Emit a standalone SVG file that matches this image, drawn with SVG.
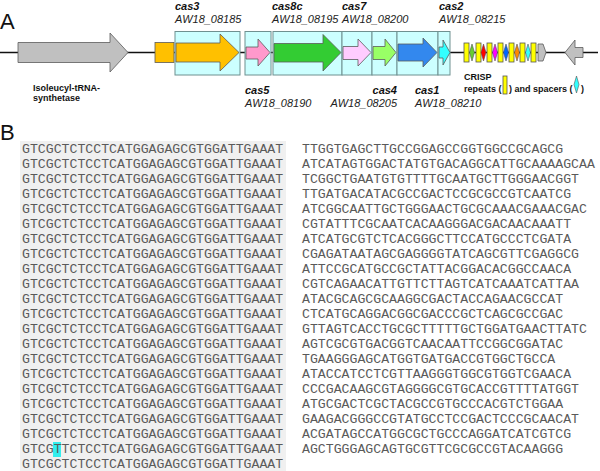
<svg xmlns="http://www.w3.org/2000/svg" width="600" height="471" viewBox="0 0 600 471">
<style>
.panel{font-family:"Liberation Sans",Arial,sans-serif;font-size:22px;fill:#111}
.gn{font-family:"Liberation Sans",Arial,sans-serif;font-size:11px;font-weight:bold;font-style:italic;fill:#111}
.id{font-family:"Liberation Sans",Arial,sans-serif;font-size:11px;font-style:italic;fill:#222}
.sm{font-family:"Liberation Sans",Arial,sans-serif;font-size:9px;font-weight:bold;fill:#111}
.box{fill:#ccffff;stroke:#6f9090;stroke-width:1}
.ar{stroke:#5a5a5a;stroke-width:0.8}
.bar{fill:#ffff00;stroke:#555;stroke-width:0.8}
.dm{stroke:#555;stroke-width:0.6}
.seq{font-family:"Liberation Mono","Courier New",monospace;font-size:13.2px;fill:#5a5a5a}
.bg{fill:#f0f0f0}
</style>
<text class="panel" x="0" y="29">A</text>
<text class="panel" x="0" y="140">B</text>
<g id="connectors">
<line x1="0" y1="52.5" x2="598" y2="52.5" stroke="#111" stroke-width="1.5"/>
</g>
<g id="ile">
<polygon class="ar" fill="#c0c0c0" points="18,42.5 110,42.5 110,33 128,52.5 110,72 110,62.5 18,62.5"/>
<text class="sm" x="33" y="91">Isoleucyl-tRNA-</text>
<text class="sm" x="33" y="101">synthetase</text>
</g>
<g id="orf">
<rect class="ar" fill="#ffc000" x="155" y="42.5" width="19" height="20"/>
</g>
<g id="cas3">
<rect class="box" x="175" y="31.5" width="65" height="43.5"/>
<polygon class="ar" fill="#ffc000" points="176,43 220,43 220,34 239,52.5 220,71 220,62 176,62"/>
<text class="gn" x="175" y="10">cas3</text>
<text class="id" x="175" y="23">AW18_08185</text>
</g>
<g id="cas5">
<rect class="box" x="245" y="31.5" width="26" height="43.5"/>
<polygon class="ar" fill="#ff99cc" points="246,47 258,47 258,39 270,52.5 258,66 258,59 246,59"/>
<text class="gn" x="245" y="94">cas5</text>
<text class="id" x="245" y="107">AW18_08190</text>
</g>
<g id="cas8c">
<rect class="box" x="273" y="31.5" width="69" height="43.5"/>
<polygon class="ar" fill="#33cc33" points="274,43.5 323,43.5 323,34.5 341,52.5 323,71 323,62 274,62"/>
<text class="gn" x="272" y="10">cas8c</text>
<text class="id" x="272" y="23">AW18_08195</text>
</g>
<g id="cas7">
<rect class="box" x="342" y="31.5" width="30" height="43.5"/>
<polygon class="ar" fill="#ffccff" points="343,46.5 358,46.5 358,39 371,52.5 358,66 358,59.5 343,59.5"/>
<text class="gn" x="342" y="10">cas7</text>
<text class="id" x="342" y="23">AW18_08200</text>
</g>
<g id="cas4">
<rect class="box" x="372" y="31.5" width="25" height="43.5"/>
<polygon class="ar" fill="#99ff66" points="373,46.5 385,46.5 385,39 396,52.5 385,66 385,59.5 373,59.5"/>
<text class="gn" x="397" y="94" text-anchor="end">cas4</text>
<text class="id" x="397" y="107" text-anchor="end">AW18_08205</text>
</g>
<g id="cas1">
<rect class="box" x="397" y="31.5" width="41" height="43.5"/>
<polygon class="ar" fill="#3388ee" points="398,44 423,44 423,38 437,52.5 423,67 423,61 398,61"/>
<text class="gn" x="415" y="94">cas1</text>
<text class="id" x="415" y="107">AW18_08210</text>
</g>
<g id="cas2">
<rect class="box" x="438" y="31.5" width="12" height="43.5"/>
<polygon class="ar" fill="#33ffff" points="439,47 443,47 443,40 450,52.5 443,65 443,58 439,58"/>
<text class="gn" x="439" y="10">cas2</text>
<text class="id" x="439" y="23">AW18_08215</text>
</g>
<g id="crispr">
<rect class="bar" x="464" y="43" width="5" height="19"/>
<polygon class="dm" fill="#66cc33" points="472,44 474.5,52.5 472,61 469.5,52.5"/>
<rect class="bar" x="476" y="43" width="5" height="19"/>
<polygon class="dm" fill="#ff0000" points="483.5,44 486,52.5 483.5,61 481,52.5"/>
<rect class="bar" x="487" y="43" width="5" height="19"/>
<polygon class="dm" fill="#ff00ff" points="495,44 497.5,52.5 495,61 492.5,52.5"/>
<rect class="bar" x="498" y="43" width="5" height="19"/>
<polygon class="dm" fill="#0066ff" points="506,44 508.5,52.5 506,61 503.5,52.5"/>
<rect class="bar" x="509" y="43" width="5" height="19"/>
<polygon class="dm" fill="#ff8800" points="517,44 519.5,52.5 517,61 514.5,52.5"/>
<rect class="bar" x="520" y="43" width="5" height="19"/>
<polygon class="dm" fill="#33ffff" points="528,44 530.5,52.5 528,61 525.5,52.5"/>
<rect class="bar" x="531" y="43" width="5" height="19"/>
<text class="sm" x="464" y="80">CRISP</text>
<text class="sm" x="464" y="92">repeats (</text>
<rect class="bar" x="503" y="76" width="4" height="18"/>
<text class="sm" x="509" y="92">) and spacers (</text>
<polygon class="dm" fill="#33ffff" points="576.5,76 579,84.5 576.5,93 574,84.5"/>
<text class="sm" x="581" y="92">)</text>
</g>
<g id="g_right1">
<polygon class="ar" fill="#c0c0c0" points="538,44 543,44 546,52.5 543,61 538,61"/>
</g>
<g id="g_right2">
<polygon class="ar" fill="#c0c0c0" points="565,52.5 575,40 575,47.5 583,47.5 583,57.5 575,57.5 575,65"/>
</g>
<g id="repeats">
<rect class="bg" x="20" y="141" width="266" height="330"/>
<rect x="53" y="442" width="8" height="15" fill="#33eeee"/>
<text class="seq" x="22">
<tspan x="22" y="153">GTCGCTCTCCTCATGGAGAGCGTGGATTGAAAT</tspan>
<tspan x="22" y="168">GTCGCTCTCCTCATGGAGAGCGTGGATTGAAAT</tspan>
<tspan x="22" y="183">GTCGCTCTCCTCATGGAGAGCGTGGATTGAAAT</tspan>
<tspan x="22" y="198">GTCGCTCTCCTCATGGAGAGCGTGGATTGAAAT</tspan>
<tspan x="22" y="213">GTCGCTCTCCTCATGGAGAGCGTGGATTGAAAT</tspan>
<tspan x="22" y="228">GTCGCTCTCCTCATGGAGAGCGTGGATTGAAAT</tspan>
<tspan x="22" y="243">GTCGCTCTCCTCATGGAGAGCGTGGATTGAAAT</tspan>
<tspan x="22" y="258">GTCGCTCTCCTCATGGAGAGCGTGGATTGAAAT</tspan>
<tspan x="22" y="273">GTCGCTCTCCTCATGGAGAGCGTGGATTGAAAT</tspan>
<tspan x="22" y="288">GTCGCTCTCCTCATGGAGAGCGTGGATTGAAAT</tspan>
<tspan x="22" y="303">GTCGCTCTCCTCATGGAGAGCGTGGATTGAAAT</tspan>
<tspan x="22" y="318">GTCGCTCTCCTCATGGAGAGCGTGGATTGAAAT</tspan>
<tspan x="22" y="333">GTCGCTCTCCTCATGGAGAGCGTGGATTGAAAT</tspan>
<tspan x="22" y="348">GTCGCTCTCCTCATGGAGAGCGTGGATTGAAAT</tspan>
<tspan x="22" y="363">GTCGCTCTCCTCATGGAGAGCGTGGATTGAAAT</tspan>
<tspan x="22" y="378">GTCGCTCTCCTCATGGAGAGCGTGGATTGAAAT</tspan>
<tspan x="22" y="393">GTCGCTCTCCTCATGGAGAGCGTGGATTGAAAT</tspan>
<tspan x="22" y="408">GTCGCTCTCCTCATGGAGAGCGTGGATTGAAAT</tspan>
<tspan x="22" y="423">GTCGCTCTCCTCATGGAGAGCGTGGATTGAAAT</tspan>
<tspan x="22" y="438">GTCGCTCTCCTCATGGAGAGCGTGGATTGAAAT</tspan>
<tspan x="22" y="453">GTCGTTCTCCTCATGGAGAGCGTGGATTGAAAT</tspan>
<tspan x="22" y="468">GTCGCTCTCCTCATGGAGAGCGTGGATTGAAAT</tspan>
</text>
</g>
<g id="spacers">
<text class="seq">
<tspan x="302" y="153">TTGGTGAGCTTGCCGGAGCCGGTGGCCGCAGCG</tspan>
<tspan x="302" y="168">ATCATAGTGGACTATGTGACAGGCATTGCAAAAGCAA</tspan>
<tspan x="302" y="183">TCGGCTGAATGTGTTTTGCAATGCTTGGGAACGGT</tspan>
<tspan x="302" y="198">TTGATGACATACGCCGACTCCGCGCCGTCAATCG</tspan>
<tspan x="302" y="213">ATCGGCAATTGCTGGGAACTGCGCAAACGAAACGAC</tspan>
<tspan x="302" y="228">CGTATTTCGCAATCACAAGGGACGACAACAAATT</tspan>
<tspan x="302" y="243">ATCATGCGTCTCACGGGCTTCCATGCCCTCGATA</tspan>
<tspan x="302" y="258">CGAGATAATAGCGAGGGGTATCAGCGTTCGAGGCG</tspan>
<tspan x="302" y="273">ATTCCGCATGCCGCTATTACGGACACGGCCAACA</tspan>
<tspan x="302" y="288">CGTCAGAACATTGTTCTTAGTCATCAAATCATTAA</tspan>
<tspan x="302" y="303">ATACGCAGCGCAAGGCGACTACCAGAACGCCAT</tspan>
<tspan x="302" y="318">CTCATGCAGGACGGCGACCCGCTCAGCGCCGAC</tspan>
<tspan x="302" y="333">GTTAGTCACCTGCGCTTTTTGCTGGATGAACTTATC</tspan>
<tspan x="302" y="348">AGTCGCGTGACGGTCAACAATTCCGGCGGATAC</tspan>
<tspan x="302" y="363">TGAAGGGAGCATGGTGATGACCGTGGCTGCCA</tspan>
<tspan x="302" y="378">ATACCATCCTCGTTAAGGGTGGCGTGGTCGAACA</tspan>
<tspan x="302" y="393">CCCGACAAGCGTAGGGGCGTGCACCGTTTTATGGT</tspan>
<tspan x="302" y="408">ATGCGACTCGCTACGCCGTGCCCACGTCTGGAA</tspan>
<tspan x="302" y="423">GAAGACGGGCCGTATGCCTCCGACTCCCGCAACAT</tspan>
<tspan x="302" y="438">ACGATAGCCATGGCGCTGCCCAGGATCATCGTCG</tspan>
<tspan x="302" y="453">AGCTGGGAGCAGTGCGTTCGCGCCGTACAAGGG</tspan>
</text>
</g>
</svg>
